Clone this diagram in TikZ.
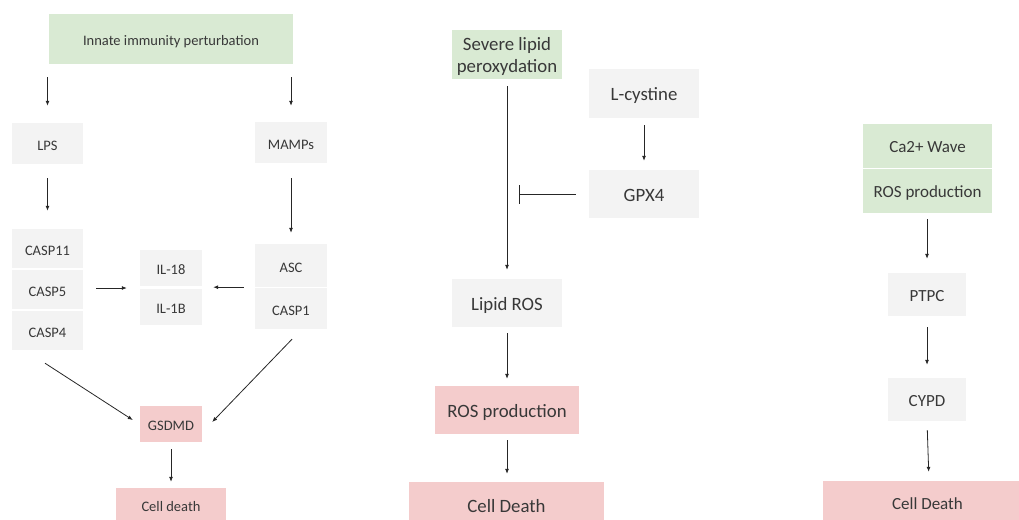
\documentclass[tikz,border=0pt]{standalone}
\usepackage{fontspec}
\setmainfont{Carlito}
\usetikzlibrary{arrows.meta,calc}
\definecolor{gfill}{HTML}{D9EAD3}
\definecolor{nfill}{HTML}{F3F3F3}
\definecolor{pfill}{HTML}{F4CCCC}
\definecolor{txt}{HTML}{383838}
\tikzset{
  box/.style={inner sep=0pt, text=txt, align=center},
  gbox/.style={box, fill=gfill},
  nbox/.style={box, fill=nfill},
  pbox/.style={box, fill=pfill},
  fl/.style={font=\fontsize{14.5}{17}\selectfont, text height=16pt, text depth=2.2pt},
  fm/.style={font=\fontsize{18.8}{21.7}\selectfont, text height=17pt, text depth=2.5pt},
  fr/.style={font=\fontsize{17}{21}\selectfont, text height=16pt, text depth=2.2pt},
  arr/.style={draw=black!85, line width=0.8pt, -{Latex[length=5pt,width=4pt]}},
  inh/.style={draw=black!85, line width=0.8pt, -{Bar[width=19pt,line width=1.4pt]}}
}
\begin{document}
\begin{tikzpicture}[x=1pt,y=-1pt]
\useasboundingbox (0,0) rectangle (1019,519);
\begin{scope}
\clip (0,0) rectangle (1019,519);
% ---------- left panel ----------
\node[gbox,fl,minimum width=244pt,minimum height=50pt] (innate) at (171,39) {Innate immunity perturbation};
\node[nbox,fl,minimum width=71pt,minimum height=41pt] (lps) at (47.5,143.5) {LPS};
\node[nbox,fl,minimum width=72pt,minimum height=41pt] (mamps) at (291,142.5) {MAMPs};
\node[nbox,fl,minimum width=71pt,minimum height=39pt] (casp11) at (47.5,248.5) {CASP11};
\node[nbox,fl,minimum width=71pt,minimum height=39pt] (casp5) at (47.5,289.5) {CASP5};
\node[nbox,fl,minimum width=71pt,minimum height=39pt] (casp4) at (47.5,330.5) {CASP4};
\node[nbox,fl,minimum width=62pt,minimum height=36pt] (il18) at (171,268) {IL-18};
\node[nbox,fl,minimum width=62pt,minimum height=36pt] (il1b) at (171,307) {IL-1B};
\node[nbox,fl,minimum width=72pt,minimum height=43pt] (asc) at (291,265.5) {ASC};
\node[nbox,fl,minimum width=72pt,minimum height=41pt] (casp1) at (291,308.5) {CASP1};
\node[pbox,fl,minimum width=62pt,minimum height=36pt] (gsdmd) at (171,424) {GSDMD};
\node[pbox,fl,minimum width=110pt,minimum height=34pt] (cdl) at (171,505) {Cell death};
\draw[arr, shorten <=13pt, shorten >=17pt] (innate.south -| lps) -- (lps.north);
\draw[arr, shorten <=13pt, shorten >=16pt] (innate.south -| mamps) -- (mamps.north);
\draw[arr, shorten <=14pt, shorten >=18pt] (lps.south) -- (casp11.north);
\draw[arr, shorten <=15pt, shorten >=11pt] (mamps.south) -- (asc.north);
\draw[arr, shorten <=13pt, shorten >=13pt] ($(casp5.east)+(0,-1.5)$) -- ($(casp5.east -| il18.west)+(0,-1.5)$);
\draw[arr, shorten <=11pt, shorten >=11pt] (asc.south west) -- (asc.south west -| il18.east);
\draw[arr] ($(casp4.south)+(-2.5,13)$) -- ($(gsdmd.west)+(-7,-4)$);
\draw[arr] ($(casp1.south)+(1,10)$) -- ($(gsdmd.east)+(10,-2)$);
\draw[arr, shorten <=7pt, shorten >=6pt] (gsdmd.south) -- (cdl.north);
% ---------- middle panel ----------
\node[gbox,fm,text height=38.7pt,minimum width=110pt,minimum height=49pt] (severe) at (507,54.5) {Severe lipid\\peroxydation};
\node[nbox,fm,minimum width=110pt,minimum height=49pt] (lcys) at (644,93.5) {L-cystine};
\node[nbox,fm,minimum width=110pt,minimum height=48pt] (gpx4) at (644,194) {GPX4};
\node[nbox,fm,minimum width=110pt,minimum height=48pt] (lros) at (507,303) {Lipid ROS};
\node[pbox,fm,minimum width=144pt,minimum height=48pt] (rosm) at (507,410) {ROS production};
\node[pbox,fm,minimum width=195pt,minimum height=46pt] (cdm) at (506.5,505) {Cell Death};
\coordinate (inhend) at (519,194);
\draw[arr, shorten <=7pt, shorten >=9pt] (severe.south) -- (lros.north);
\draw[arr, shorten <=7pt, shorten >=9pt] (lcys.south) -- (gpx4.north);
\draw[inh, shorten <=13pt] (gpx4.west) -- (inhend);
\draw[arr, shorten <=6pt, shorten >=7pt] (lros.south) -- (rosm.north);
\draw[arr, shorten <=6pt, shorten >=8pt] (rosm.south) -- (cdm.north -| rosm.south);
% ---------- right panel ----------
\node[gbox,fr,minimum width=129pt,minimum height=44pt] (ca) at (927.5,146) {Ca2+ Wave};
\node[gbox,fr,minimum width=129pt,minimum height=44pt] (rosr) at (927.5,191) {ROS production};
\node[nbox,fr,minimum width=78pt,minimum height=43pt] (ptpc) at (927,294.5) {PTPC};
\node[nbox,fr,minimum width=78pt,minimum height=43pt] (cypd) at (927,399.5) {CYPD};
\node[pbox,fr,minimum width=209pt,minimum height=44pt] (cdr) at (927.5,503) {Cell Death};
\draw[arr, shorten <=6pt, shorten >=14pt] (rosr.south -| ptpc) -- (ptpc.north);
\draw[arr, shorten <=11pt, shorten >=13pt] (ptpc.south) -- (cypd.north);
\draw[arr, shorten <=9pt, shorten >=9pt] (cypd.south) -- ($(cypd.south |- cdr.north)+(2,0)$);
\end{scope}
\end{tikzpicture}
\end{document}
